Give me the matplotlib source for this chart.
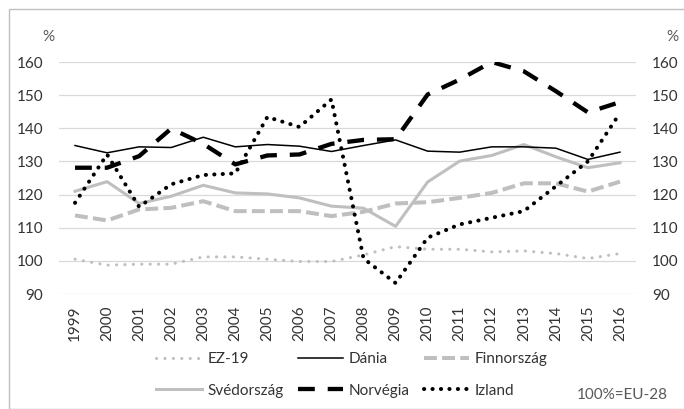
import matplotlib
matplotlib.use("Agg")
import matplotlib.pyplot as plt
from matplotlib.patches import Rectangle
import numpy as np

years = [str(y) for y in range(1999, 2017)]

ez19 = [100.5, 98.7, 99.0, 99.0, 101.2, 101.2, 100.5, 99.8, 99.8,
        101.8, 104.3, 103.5, 103.5, 102.7, 103.0, 102.2, 100.7, 102.2]
dania = [134.8, 132.6, 134.4, 134.2, 137.3, 134.4, 135.1, 134.6, 133.0,
         134.8, 136.5, 133.1, 132.8, 134.4, 134.4, 134.0, 130.6, 132.8]
finnorszag = [113.7, 112.2, 115.5, 116.0, 118.0, 115.0, 115.0, 115.0, 113.5,
              114.8, 117.3, 117.7, 119.0, 120.5, 123.4, 123.4, 120.9, 123.9]
svedorszag = [121.0, 123.9, 117.3, 119.5, 122.8, 120.5, 120.2, 119.0, 116.5,
              115.9, 110.4, 123.8, 130.1, 131.8, 135.1, 131.4, 128.1, 129.6]
norvegia = [128.1, 128.1, 131.6, 139.9, 135.3, 129.1, 131.8, 132.1, 135.3,
            136.5, 136.7, 150.2, 154.7, 160.0, 157.2, 151.2, 144.8, 147.9]
izland = [117.5, 132.1, 116.3, 123.1, 125.9, 126.4, 143.4, 140.4, 148.7,
          100.7, 93.3, 107.0, 111.0, 113.0, 115.0, 122.5, 130.0, 144.6]

yticks = [90, 100, 110, 120, 130, 140, 150, 160]

plt.rcParams['font.family'] = ['Lato', 'DejaVu Sans']
plt.rcParams['font.size'] = 11
txt_col = '#333333'
light = '#BFBFBF'

fig = plt.figure(figsize=(6.84, 4.09), dpi=100)
ax = fig.add_axes([59 / 684, 1 - 294 / 409, 577 / 684, 232 / 409])

x = np.arange(len(years))
l_ez, = ax.plot(x, ez19, color=light, lw=2.2, linestyle=(0, (0.05, 2.7)),
                dash_capstyle='round', label='EZ-19', zorder=3)
l_dk, = ax.plot(x, dania, color='black', lw=1.1, label='Dánia', zorder=4)
l_fi, = ax.plot(x, finnorszag, color=light, lw=2.9, linestyle=(0, (3.2, 1.3)),
                label='Finnország', zorder=3)
l_se, = ax.plot(x, svedorszag, color=light, lw=2.2, label='Svédország', zorder=3)
l_no, = ax.plot(x, norvegia, color='black', lw=3.1, linestyle=(0, (3.9, 3.0)),
                label='Norvégia', zorder=5)
l_is, = ax.plot(x, izland, color='black', lw=2.9, linestyle=(0, (0.05, 2.05)),
                dash_capstyle='round', label='Izland', zorder=5)

ax.set_xlim(-0.5, len(years) - 0.5)
ax.set_ylim(90, 160)
ax.set_xticks(x)
ax.set_xticklabels(years, rotation=90, color=txt_col)
ax.set_yticks(yticks)
ax.set_yticklabels([str(v) for v in yticks], color=txt_col)
ax.tick_params(axis='x', length=0, pad=8.6)
ax.tick_params(axis='y', length=0, pad=11.5, labelright=True, right=False)
ax.grid(axis='y', color='#D9D9D9', lw=0.9)
ax.set_axisbelow(True)
for s in ax.spines.values():
    s.set_visible(False)

fig.text(48 / 684, 1 - 37 / 409, '%', ha='center', va='center', color='#595959')
fig.text(672 / 684, 1 - 37 / 409, '%', ha='center', va='center', color='#595959')
fig.text(668 / 684, 1 - 395 / 409, '100%=EU-28', ha='right', va='center', color='#595959')

handles = [l_ez, l_se, l_dk, l_no, l_fi, l_is]
leg = fig.legend(handles=handles, labels=[h.get_label() for h in handles],
                 ncol=3, loc='center', bbox_to_anchor=(352 / 684, 1 - 375 / 409),
                 frameon=False, handlelength=3.0, handletextpad=0.35,
                 columnspacing=0.9, labelspacing=1.15, borderaxespad=0)
for t in leg.get_texts():
    t.set_color(txt_col)

fig.add_artist(Rectangle((9 / 684, 0), 1, 1 - 9 / 409, transform=fig.transFigure,
                         fill=False, edgecolor=light, lw=1))

fig.savefig('out.png', dpi=100)
